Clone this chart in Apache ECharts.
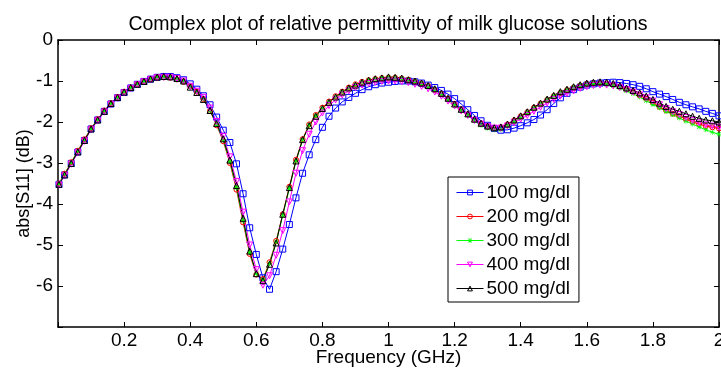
<!DOCTYPE html>
<html>
<head>
<meta charset="utf-8">
<script src="https://cdn.jsdelivr.net/npm/echarts@6/dist/echarts.min.js"></script>
<style>html,body{margin:0;padding:0;background:#fff;}#c{width:721px;height:370px;}</style>
</head>
<body>
<div id="c"></div>
<script>
const freq = [0.003,0.02,0.04,0.06,0.08,0.10,0.12,0.14,0.16,0.18,0.20,0.22,0.24,0.26,0.28,0.30,0.32,0.34,0.36,0.38,
0.40,0.42,0.44,0.46,0.48,0.50,0.52,0.54,0.56,0.58,0.60,0.62,0.64,0.66,0.68,0.70,0.72,0.74,0.76,0.78,0.80,0.82,0.84,0.86,0.88,0.90,0.92,0.94,0.96,0.98,1.00,
1.02,1.04,1.06,1.08,1.10,1.12,1.14,1.16,1.18,1.20,1.22,1.24,1.26,1.28,1.30,1.32,1.34,1.36,1.38,1.40,1.42,1.44,1.46,1.48,1.50,
1.52,1.54,1.56,1.58,1.60,1.62,1.64,1.66,1.68,1.70,1.72,1.74,1.76,1.78,1.80,1.82,1.84,1.86,1.88,1.90,1.92,1.94,1.96,1.98,2.00];

const s100 = [-3.52,-3.29,-3.01,-2.73,-2.45,-2.17,-1.95,-1.74,-1.56,-1.41,-1.28,-1.17,-1.08,-1.01,-0.955,-0.91,-0.89,-0.89,-0.92,-0.97,
-1.07,-1.20,-1.36,-1.58,-1.88,-2.20,-2.50,-3.02,-3.75,-4.58,-5.23,-5.80,-6.08,-5.65,-5.10,-4.50,-3.85,-3.25,-2.80,-2.43,-2.13,-1.86,-1.66,-1.51,-1.40,-1.30,-1.21,-1.14,-1.09,-1.05,-1.03,
-1.01,-1.00,-1.00,-1.02,-1.05,-1.10,-1.16,-1.23,-1.32,-1.43,-1.56,-1.70,-1.84,-1.97,-2.08,-2.16,-2.20,-2.19,-2.15,-2.09,-2.02,-1.94,-1.83,-1.70,-1.55,
-1.41,-1.30,-1.21,-1.15,-1.10,-1.07,-1.05,-1.04,-1.03,-1.04,-1.06,-1.09,-1.13,-1.19,-1.26,-1.32,-1.38,-1.45,-1.52,-1.58,-1.63,-1.68,-1.74,-1.79,-1.85];

const s200 = [-3.50,-3.26,-2.98,-2.70,-2.42,-2.15,-1.93,-1.72,-1.54,-1.39,-1.26,-1.16,-1.08,-1.01,-0.96,-0.92,-0.91,-0.92,-0.96,-1.02,
-1.13,-1.26,-1.44,-1.73,-2.08,-2.47,-3.00,-3.65,-4.45,-5.22,-5.72,-5.83,-5.42,-4.90,-4.25,-3.58,-2.92,-2.42,-2.06,-1.83,-1.65,-1.50,-1.37,-1.26,-1.16,-1.08,-1.02,-0.98,-0.95,-0.93,-0.92,
-0.92,-0.94,-0.97,-1.01,-1.06,-1.12,-1.21,-1.31,-1.43,-1.56,-1.69,-1.81,-1.94,-2.04,-2.11,-2.15,-2.13,-2.06,-1.96,-1.86,-1.76,-1.65,-1.55,-1.46,-1.37,
-1.29,-1.22,-1.16,-1.11,-1.07,-1.05,-1.05,-1.06,-1.09,-1.14,-1.20,-1.27,-1.35,-1.44,-1.53,-1.63,-1.72,-1.80,-1.86,-1.93,-2.00,-2.05,-2.10,-2.13,-2.16];

const s300 = [-3.50,-3.27,-2.99,-2.71,-2.44,-2.16,-1.94,-1.73,-1.55,-1.40,-1.27,-1.16,-1.08,-1.01,-0.955,-0.91,-0.90,-0.91,-0.95,-1.01,
-1.14,-1.27,-1.44,-1.72,-2.06,-2.44,-2.96,-3.60,-4.40,-5.18,-5.70,-5.85,-5.45,-4.92,-4.28,-3.62,-2.95,-2.44,-2.08,-1.85,-1.67,-1.52,-1.39,-1.27,-1.17,-1.09,-1.03,-0.98,-0.95,-0.93,-0.92,
-0.92,-0.94,-0.97,-1.01,-1.06,-1.13,-1.21,-1.32,-1.45,-1.58,-1.72,-1.84,-1.97,-2.08,-2.15,-2.19,-2.18,-2.10,-1.99,-1.88,-1.77,-1.66,-1.56,-1.46,-1.37,
-1.29,-1.22,-1.16,-1.11,-1.08,-1.06,-1.06,-1.08,-1.12,-1.17,-1.24,-1.31,-1.39,-1.48,-1.57,-1.65,-1.74,-1.82,-1.90,-1.98,-2.05,-2.12,-2.19,-2.25,-2.30];

const s400 = [-3.54,-3.31,-3.03,-2.75,-2.47,-2.19,-1.97,-1.76,-1.57,-1.42,-1.29,-1.18,-1.09,-1.02,-0.96,-0.92,-0.91,-0.91,-0.94,-1.00,
-1.13,-1.25,-1.40,-1.66,-1.99,-2.35,-2.85,-3.45,-4.20,-5.00,-5.60,-5.98,-5.75,-5.25,-4.65,-3.95,-3.25,-2.70,-2.30,-2.00,-1.78,-1.60,-1.46,-1.34,-1.24,-1.16,-1.10,-1.06,-1.03,-1.01,-1.00,
-1.00,-1.01,-1.04,-1.08,-1.13,-1.19,-1.27,-1.37,-1.49,-1.61,-1.73,-1.84,-1.96,-2.05,-2.11,-2.15,-2.15,-2.10,-2.02,-1.93,-1.84,-1.74,-1.64,-1.54,-1.45,
-1.37,-1.30,-1.24,-1.18,-1.14,-1.11,-1.10,-1.10,-1.12,-1.16,-1.21,-1.27,-1.34,-1.41,-1.49,-1.58,-1.67,-1.75,-1.82,-1.89,-1.96,-2.02,-2.07,-2.10,-2.13];

const s500 = [-3.52,-3.29,-3.01,-2.73,-2.45,-2.17,-1.95,-1.74,-1.55,-1.40,-1.27,-1.16,-1.08,-1.01,-0.95,-0.905,-0.89,-0.90,-0.94,-1.00,
-1.15,-1.28,-1.45,-1.72,-2.04,-2.41,-2.93,-3.55,-4.35,-5.15,-5.70,-5.87,-5.47,-4.95,-4.25,-3.60,-2.95,-2.43,-2.09,-1.86,-1.67,-1.52,-1.39,-1.27,-1.17,-1.10,-1.03,-0.98,-0.945,-0.925,-0.90,
-0.91,-0.93,-0.97,-1.00,-1.05,-1.11,-1.19,-1.30,-1.42,-1.56,-1.69,-1.80,-1.93,-2.03,-2.10,-2.14,-2.12,-2.05,-1.95,-1.85,-1.75,-1.64,-1.54,-1.44,-1.35,
-1.26,-1.20,-1.14,-1.09,-1.05,-1.03,-1.02,-1.03,-1.06,-1.11,-1.17,-1.23,-1.29,-1.37,-1.45,-1.54,-1.62,-1.69,-1.74,-1.80,-1.86,-1.91,-1.95,-1.97,-2.00];

const seriesNames = ['100 mg/dl','200 mg/dl','300 mg/dl','400 mg/dl','500 mg/dl'];
const xTickValues = [0.2,0.4,0.6,0.8,1.0,1.2,1.4,1.6,1.8,2.0];
const xTickLabels = ['0.2','0.4','0.6','0.8','1','1.2','1.4','1.6','1.8','2'];
const yTickValues = [0,-1,-2,-3,-4,-5,-6];
const yTickLabels = ['0','-1','-2','-3','-4','-5','-6'];

const FONT = 'Liberation Sans, Arial, sans-serif';
const pair = (ys) => freq.map((f, i) => [f, ys[i]]);
const lookup = (vals, labels) => (v) => {
  const i = vals.findIndex(t => Math.abs(t - v) < 1e-6);
  return i < 0 ? '' : labels[i];
};
const star = 'path://M4.4,0h1.2v10h-1.2zM0,4.4h10v1.2h-10zM1.2,0.4L9.6,8.8L8.8,9.6L0.4,1.2zM8.8,0.4L9.6,1.2L1.2,9.6L0.4,8.8z';

const styles = [
  {color:'#0000ff', symbol:'rect', size:6, hollow:true},
  {color:'#ff0000', symbol:'circle', size:5, hollow:true},
  {color:'#00ff00', symbol:star, size:5, hollow:false},
  {color:'#ff00ff', symbol:'triangle', size:6, hollow:true, rotate:180},
  {color:'#000000', symbol:'triangle', size:6, hollow:true}
];
const datas = [s100, s200, s300, s400, s500];

const markerStyle = (st) => st.hollow
  ? {color: 'rgba(255,255,255,0)', borderColor: st.color, borderWidth: 1}
  : {color: st.color, borderWidth: 0};

const series = datas.map((d, k) => {
  const st = styles[k];
  return {
    name: seriesNames[k],
    type: 'line',
    data: pair(d),
    symbol: st.symbol,
    symbolSize: st.size,
    symbolRotate: st.rotate || 0,
    showAllSymbol: true,
    lineStyle: {color: st.color, width: 1},
    itemStyle: markerStyle(st),
    emphasis: {disabled: true},
    animation: false
  };
});

const legendData = seriesNames.map((n, k) => ({
  name: n,
  itemStyle: markerStyle(styles[k]),
  lineStyle: {color: styles[k].color, width: 1}
}));

const axisCommon = {
  axisLine: {show: true, onZero: false, lineStyle: {color: '#000', width: 1.5}},
  axisTick: {show: true, inside: true, length: 5, lineStyle: {color: '#000', width: 1}},
  splitLine: {show: false}
};

const chart = echarts.init(document.getElementById('c'), null, {renderer: 'canvas'});
chart.setOption({
  animation: false,
  backgroundColor: '#fff',
  title: {
    text: 'Complex plot of relative permittivity of milk glucose solutions',
    left: 383, top: 10, textAlign: 'center',
    textStyle: {fontFamily: FONT, fontSize: 19.5, fontWeight: 'normal', color: '#000'}
  },
  grid: {left: 58, right: 2, top: 40, bottom: 43, containLabel: false, outerBoundsMode: 'none'},
  legend: {
    orient: 'vertical',
    left: 448, top: 177,
    data: legendData,
    backgroundColor: '#fff',
    borderColor: '#000', borderWidth: 1,
    padding: [6, 9, 4, 8],
    itemWidth: 27, itemHeight: 6, itemGap: 5,
    textStyle: {fontFamily: FONT, fontSize: 19, color: '#000', lineHeight: 18, padding: [0,0,0,-2]}
  },
  xAxis: [
    Object.assign({}, axisCommon, {
      type: 'value', position: 'bottom', min: 0, max: 2, interval: 0.2,
      name: 'Frequency (GHz)', nameLocation: 'middle', nameGap: 21, nameMoveOverlap: false,
      nameTextStyle: {fontFamily: FONT, fontSize: 19, color: '#000'},
      axisLabel: {margin: 4, fontFamily: FONT, fontSize: 19, color: '#000', formatter: lookup(xTickValues, xTickLabels)}
    }),
    Object.assign({}, axisCommon, {
      type: 'value', position: 'top', min: 0, max: 2, interval: 0.2,
      axisLabel: {show: false}
    })
  ],
  yAxis: [
    Object.assign({}, axisCommon, {
      type: 'value', position: 'left', min: -7, max: 0, interval: 1,
      name: 'abs[S11] (dB)', nameLocation: 'middle', nameGap: 25, nameRotate: 90, nameMoveOverlap: false,
      nameTextStyle: {fontFamily: FONT, fontSize: 18, color: '#000'},
      axisLabel: {margin: 5, fontFamily: FONT, fontSize: 19, color: '#000', formatter: lookup(yTickValues, yTickLabels)}
    }),
    Object.assign({}, axisCommon, {
      type: 'value', position: 'right', min: -7, max: 0, interval: 1,
      axisLabel: {show: false}
    })
  ],
  series: series
});
</script>
</body>
</html>
